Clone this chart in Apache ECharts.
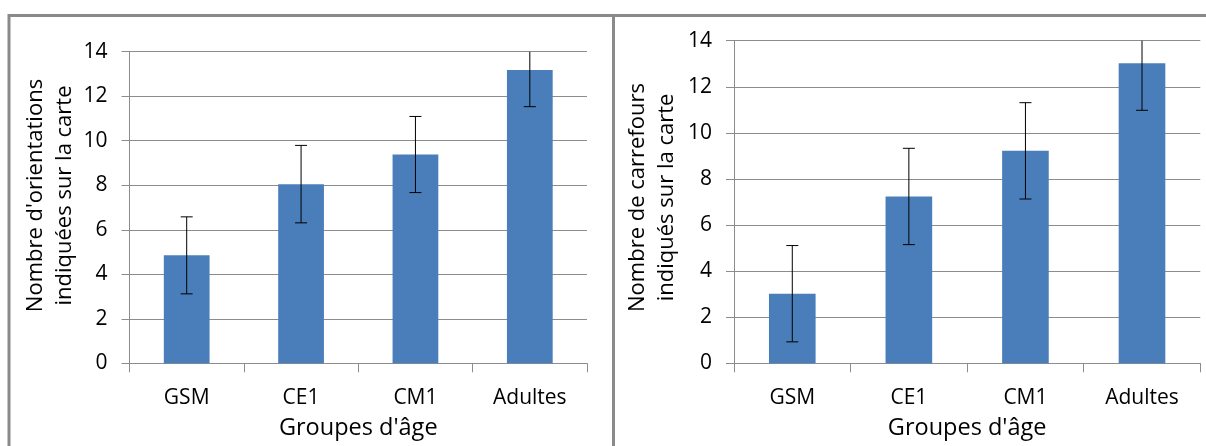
<!DOCTYPE html>
<html>
<head>
<meta charset="utf-8">
<script src="https://cdn.jsdelivr.net/npm/echarts@6/dist/echarts.min.js"></script>
<style>
html,body{margin:0;padding:0;background:#fff;}
#chart{width:1206px;height:446px;}
</style>
</head>
<body>
<div id="chart"></div>
<script>
// ---- data ----
const categories = ['GSM', 'CE1', 'CM1', 'Adultes'];
const orientationMeans = [4.85, 8.05, 9.38, 13.18];
const orientationErrors = [1.73, 1.74, 1.71, 1.65];
const carrefourMeans = [3.02, 7.24, 9.22, 13.02];
const carrefourErrors = [2.09, 2.09, 2.09, 2.04];
const leftYTitle = "Nombre d'orientations\nindiquées sur la carte";
const rightYTitle = "Nombre de carrefours\nindiqués sur la carte";
const xTitle = "Groupes d'âge";

const FONT = 'Open Sans';
const GRID_COLOR = '#8c8c8c';
const BAR_COLOR = '#4a7ebb';

function errorData(means, errs) {
  return means.map((m, i) => [i, m, errs[i]]);
}

function errorRender(params, api) {
  const x = api.value(0), m = api.value(1), e = api.value(2);
  const hi = api.coord([x, m + e]);
  const lo = api.coord([x, m - e]);
  const half = 6;
  const style = { stroke: '#000', lineWidth: 1 };
  return {
    type: 'group',
    children: [
      { type: 'line', shape: { x1: hi[0], y1: hi[1], x2: lo[0], y2: lo[1] }, style },
      { type: 'line', shape: { x1: hi[0] - half, y1: hi[1], x2: hi[0] + half, y2: hi[1] }, style },
      { type: 'line', shape: { x1: lo[0] - half, y1: lo[1], x2: lo[0] + half, y2: lo[1] }, style }
    ]
  };
}

function xAxisDef(gridIndex) {
  return {
    type: 'category',
    gridIndex,
    data: categories,
    name: xTitle,
    nameLocation: 'middle',
    nameGap: 53,
    nameTextStyle: { fontFamily: FONT, fontSize: 23.5, color: '#000' },
    axisLine: { lineStyle: { color: GRID_COLOR, width: 1 } },
    axisTick: { show: true, length: 9, lineStyle: { color: GRID_COLOR } },
    axisLabel: { fontFamily: FONT, fontSize: 21, color: '#000', margin: 24 },
    splitLine: { show: false }
  };
}

function yAxisDef(gridIndex, title, gap, shift) {
  return {
    type: 'value',
    gridIndex,
    min: 0,
    max: 14,
    interval: 2,
    name: title,
    nameLocation: 'middle',
    nameRotate: 90,
    nameGap: gap,
    nameTextStyle: { fontFamily: FONT, fontSize: 22, color: '#000', lineHeight: 29,
      padding: [0, 0, 0, shift] },
    axisLine: { show: true, lineStyle: { color: GRID_COLOR, width: 1 } },
    axisTick: { show: true, length: 8, lineStyle: { color: GRID_COLOR } },
    axisLabel: { fontFamily: FONT, fontSize: 21, color: '#000', margin: 22 },
    splitLine: { show: true, lineStyle: { color: GRID_COLOR, width: 1 } }
  };
}

const chart = echarts.init(document.getElementById('chart'), null, { renderer: 'canvas' });
chart.setOption({
  backgroundColor: '#fff',
  animation: false,
  graphic: [
    { type: 'polyline', shape: { points: [[9, 446], [9, 15.5], [1206, 15.5]] },
      style: { stroke: '#8a8a8a', lineWidth: 3, fill: null }, silent: true, z: 10 },
    { type: 'line', shape: { x1: 613.5, y1: 15, x2: 613.5, y2: 446 },
      style: { stroke: '#8a8a8a', lineWidth: 3 }, silent: true, z: 10 }
  ],
  grid: [
    { left: 129.5, right: 1206 - 587, top: 51.7, bottom: 446 - 363.3, containLabel: false },
    { left: 734, right: 1206 - 1200.3, top: 40.7, bottom: 446 - 363.3, containLabel: false }
  ],
  xAxis: [xAxisDef(0), xAxisDef(1)],
  yAxis: [yAxisDef(0, leftYTitle, 50, 24), yAxisDef(1, rightYTitle, 53, 9)],
  series: [
    { type: 'bar', xAxisIndex: 0, yAxisIndex: 0, data: orientationMeans, barWidth: '40%',
      itemStyle: { color: BAR_COLOR } },
    { type: 'custom', xAxisIndex: 0, yAxisIndex: 0, data: errorData(orientationMeans, orientationErrors),
      renderItem: errorRender, clip: true, z: 5 },
    { type: 'bar', xAxisIndex: 1, yAxisIndex: 1, data: carrefourMeans, barWidth: '40%',
      itemStyle: { color: BAR_COLOR } },
    { type: 'custom', xAxisIndex: 1, yAxisIndex: 1, data: errorData(carrefourMeans, carrefourErrors),
      renderItem: errorRender, clip: true, z: 5 }
  ]
});
</script>
</body>
</html>
